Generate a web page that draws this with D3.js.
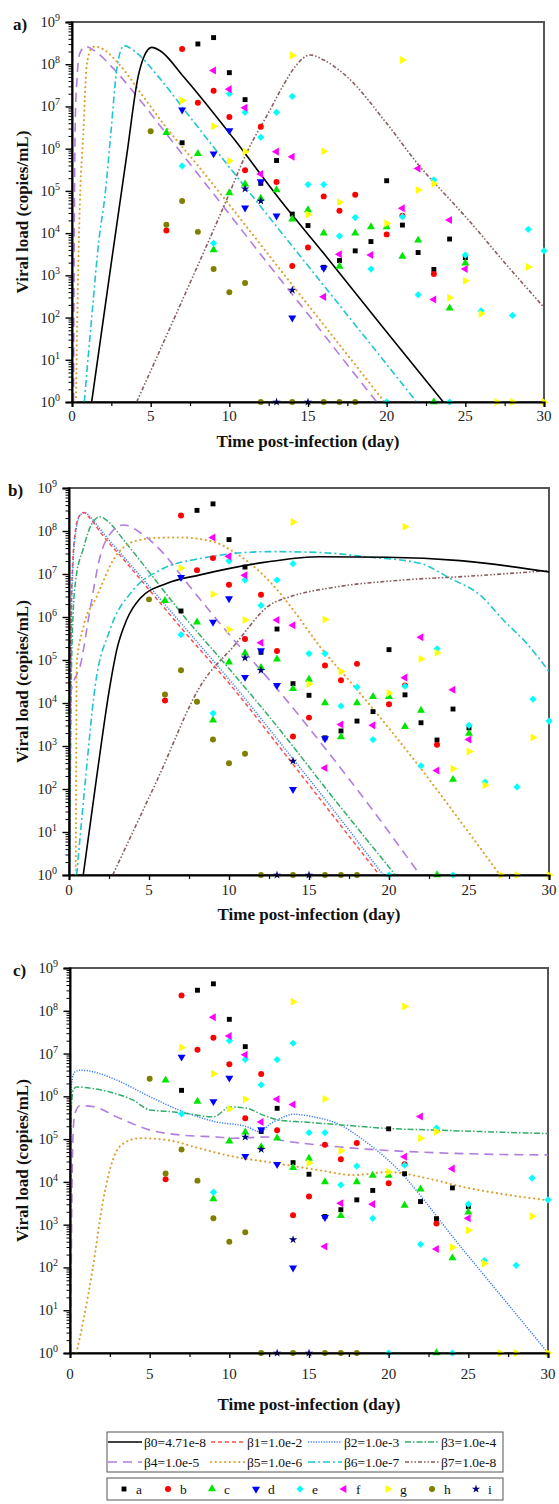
<!DOCTYPE html>
<html><head><meta charset="utf-8">
<script src="https://cdn.jsdelivr.net/npm/d3@7"></script>
<style>body{margin:0;background:#fff}</style>
</head><body>
<svg id="chart" width="559" height="1504"></svg>
<script>
// ---------------- DATA ----------------
// Observed patient data (day, copies/mL); value 1 = undetectable (drawn on axis)
const aDays = [7,8,9,10,11,12,13,14,15,16,17,18,19,20,21,22,23,24,25];
const aVals = [1.38e6,3.02e8,4.27e8,6.31e7,1.45e7,1.51e5,5.25e5,2.82e4,1.51e4,1.55e3,2.24e3,3.8e3,6.31e3,1.74e5,1.55e4,3.47e3,1.38e3,7.24e3,2.63e3];
const bDays = [6,7,8,9,10,11,12,13,14,15,16,17,18,20,21,23];
const bVals = [1.15e4,2.29e8,1.23e7,2.34e7,5.62e6,3.09e5,3.31e6,1.62e5,1.66e3,4.57e3,7.41e4,3.39e4,8.13e4,9.33e3,2.57e4,1.07e3];
const cDays = [6,8,9,10,11,12,13,14,15,16,17,18,19,20,21,22,23,24,25];
const cVals = [2.4e6,7.59e5,3.98e3,8.91e4,1.45e5,6.61e4,1.05e5,2.14e4,3.55e4,1e4,1.62e3,1e4,1.41e4,1.41e4,2.82e3,6.76e3,1,166,1.95e3];
const dDays = [7,9,10,11,12,13,14,16];
const dVals = [8.32e6,7.59e5,2.69e6,3.98e4,1.66e5,2.57e4,98,1.48e3];
const eDays = [7,9,10,11,12,13,14,15,16,17,18,19,20,21,22,23,24,25,26,28,29,30];
const eVals = [3.89e5,5.75e3,2e7,7.24e6,1.86e6,7.24e6,1.74e7,1.41e5,1.41e5,8.51e3,2.34e4,1.41e3,1,2.45e4,347,1.82e5,1,3.02e3,145,112,1.23e4,3.8e3];
const fDays = [9,10,11,12,13,14,16,17,19,21,22,23,24,25];
const fVals = [7.08e7,2.57e7,9.33e6,2.51e5,8.51e5,6.46e5,309,3.16e3,3.02e3,3.89e4,3.39e5,269,2.04e4,1.41e3];
const gDays = [7,9,10,11,14,15,16,17,20,21,22,23,24,25,26,27,28,29,30];
const gVals = [1.38e7,3.39e6,5.13e5,8.51e5,1.62e8,2.75e4,8.71e5,5.37e4,1.7e4,1.26e8,1.05e5,1.48e5,295,741,123,1,1,1.58e3,1];
const hDays = [5,6,7,8,9,10,11,12,14,16,17,18];
const hVals = [2.57e6,1.58e4,5.75e4,1.07e4,1.41e3,398,661,1,1,1,1,1];
const iDays = [11,12,13,14,15];
const iVals = [1.12e5,5.75e4,1,447,1];
const patientNames = ["a","b","c","d","e","f","g","h","i"];

// Model curves: [day, log10(copies/mL)]
const betaLabels = ["β0=4.71e-8","β1=1.0e-2","β2=1.0e-3","β3=1.0e-4","β4=1.0e-5","β5=1.0e-6","β6=1.0e-7","β7=1.0e-8"];
const panelA_b0 = [[1.25,0],[2.5,3.3],[3.5,5.9],[4.2,7.7],[4.6,8.2],[5.07,8.4],[5.6,8.32],[7.08,7.71],[10.25,6.25],[13.22,4.79],[16,3.52],[20,1.66],[23.6,0]];
const panelA_b4 = [[0.1,0],[0.13,3],[0.17,5.5],[0.2,6.5],[0.3,7.55],[0.5,8.26],[0.83,8.42],[1.5,8.3],[2.5,7.95],[4,7.3],[6,6.35],[8,5.4],[10,4.45],[12.59,3.21],[15,2.08],[17,1.12],[19.37,0]];
const panelA_b5 = [[0.25,0],[0.35,2.3],[0.5,4.7],[0.72,6.37],[0.93,7.95],[1.2,8.35],[1.46,8.42],[2,8.35],[3,8.0],[4.5,7.25],[6,6.5],[8,5.6],[10,4.67],[12.59,3.44],[15,2.3],[17.5,1.12],[19.86,0]];
const panelA_b6 = [[0.78,0],[1.3,2.2],[1.7,3.8],[2.1,4.9],[2.5,6.5],[2.85,7.9],[3.3,8.44],[4,8.3],[5.5,7.7],[7.29,6.85],[10,5.56],[12.59,4.35],[16,2.76],[19,1.36],[21.9,0]];
const panelA_b7 = [[4.11,0],[7,2.4],[9.83,4.79],[11.1,5.9],[12.59,6.92],[13.43,7.5],[14.2,7.95],[15.13,8.22],[16,8.1],[17.46,7.71],[20,6.6],[22.1,5.58],[24.03,4.79],[25.2,4.31],[27.5,3.3],[30,2.24]];

const panelB_b0 = [[0.89,0],[1.7,2.2],[2.56,4.4],[2.98,5.23],[3.6,5.93],[4.44,6.43],[6.1,6.78],[8.19,6.98],[12.56,7.29],[15.69,7.4],[19.86,7.39],[24.44,7.31],[30,7.05]];
const panelB_b1 = [[0.03,0],[0.07,3],[0.12,5.5],[0.2,7],[0.4,8.0],[0.65,8.35],[0.9,8.43],[1.3,8.3],[2,7.95],[3.5,7.3],[4.86,6.7],[7,5.75],[10.27,4.34],[13.19,2.96],[16,1.62],[19.4,0]];
const panelB_b2 = [[0.05,0],[0.1,3.5],[0.15,5.8],[0.25,7.2],[0.45,8.05],[0.7,8.37],[1.0,8.43],[1.4,8.3],[2.1,7.97],[3.6,7.32],[5,6.72],[7.2,5.77],[10.5,4.33],[13.4,2.98],[16.2,1.67],[19.64,0]];
const panelB_b3 = [[0.05,0],[0.1,3],[0.2,5.5],[0.4,6.8],[0.9,7.6],[1.4,8.15],[1.94,8.33],[2.5,8.2],[3.5,7.75],[5,7.05],[7,6.1],[10,4.8],[13,3.46],[16.5,1.8],[20.4,0]];
const panelB_b4 = [[0.04,0],[0.06,3.5],[0.1,4.2],[0.3,4.5],[0.69,4.85],[1.31,6.16],[1.94,7.4],[2.6,7.95],[3.4,8.14],[4.5,7.95],[5.9,7.48],[7.35,6.8],[10,5.6],[12.98,4.34],[16,2.95],[19,1.5],[21.94,0]];
const panelB_b5 = [[0.42,0],[0.45,2.5],[0.48,4.92],[0.9,5.77],[1.73,6.47],[2.77,7.33],[4.02,7.75],[5.5,7.84],[6.94,7.85],[9.02,7.75],[10.27,7.52],[12.56,6.82],[14.02,6.16],[15.69,5.31],[17.56,4.5],[18.2,4.22],[21.73,2.6],[24.86,1.05],[26.94,0]];
const panelB_b6 = [[0.48,0],[1.0,2.1],[1.63,4.38],[2.56,5.7],[4.02,6.63],[5.69,7.09],[8.19,7.36],[12.56,7.52],[15.69,7.5],[18.81,7.39],[21.94,7.25],[23.81,6.9],[25.69,6.51],[27.14,5.93],[28.6,5.39],[30,4.73]];
const panelB_b7 = [[2.73,0],[5.5,2.2],[8.3,4.45],[10.27,5.31],[12.56,6.28],[13.81,6.47],[16.73,6.7],[20.9,6.86],[25.06,6.95],[30,7.08]];

const panelC_b2 = [[0.03,0],[0.05,5.0],[0.1,6.3],[0.31,6.57],[0.63,6.61],[1.26,6.59],[1.88,6.53],[2.93,6.38],[5.02,5.99],[7.11,5.64],[9.21,5.4],[11.09,5.29],[11.93,5.17],[12.55,5.35],[13.18,5.48],[14.02,5.58],[15.27,5.52],[16.74,5.37],[18.41,4.98],[20,4.5],[24.7,2.4],[30,0]];
const panelC_b3 = [[0.03,0],[0.06,5.5],[0.2,6.15],[0.42,6.22],[1.46,6.18],[2.51,6.1],[3.97,5.91],[5.02,5.68],[6.07,5.65],[7.32,5.6],[9.0,5.52],[10.04,5.75],[11.09,5.72],[12.13,5.56],[13.18,5.44],[14.65,5.4],[16.74,5.34],[19.88,5.25],[23.02,5.21],[27.2,5.16],[30,5.13]];
const panelC_b4 = [[0.04,0],[0.1,3],[0.2,5.2],[0.31,5.6],[0.63,5.78],[1.46,5.76],[2.93,5.52],[5.02,5.21],[7.11,5.09],[9.21,5.05],[10.25,5.02],[12.35,5.05],[13.18,4.98],[15.69,4.86],[18.83,4.76],[23.02,4.68],[27.2,4.64],[30,4.63]];
const panelC_b5 = [[0.4,0],[0.85,0.78],[1.41,1.94],[2.08,3.57],[2.72,4.55],[3.35,4.9],[4.39,5.02],[6.07,4.98],[8.16,4.78],[10.25,4.59],[12.35,4.47],[15.7,4.27],[17.75,4.16],[20,4.23],[22.45,4.08],[24.7,3.88],[26.9,3.73],[30,3.57]];

const xTickValues = [0,5,10,15,20,25,30];
const yTickExponents = [0,1,2,3,4,5,6,7,8,9];
const panelLabels = ["a)","b)","c)"];
const xTitle = "Time post-infection (day)";
const yTitle = "Viral load (copies/mL)";

// ---------------- STYLE ----------------
const FONT = "'Liberation Serif','Times New Roman',serif";
const betaStyle = [
  {color:"#000000", dash:null, w:1.6, cap:"butt"},
  {color:"#ff4d4d", dash:"4,3", w:1.5, cap:"butt"},
  {color:"#3d7dff", dash:"1.2,1.4", w:1.5, cap:"butt"},
  {color:"#2fae6a", dash:"6,2,1.5,2", w:1.5, cap:"butt"},
  {color:"#b07ee0", dash:"9,6", w:1.6, cap:"butt"},
  {color:"#dd9f2c", dash:"0.1,4.6", w:2.1, cap:"round"},
  {color:"#1fc6d0", dash:"7,3,2,3", w:1.6, cap:"butt"},
  {color:"#8a5c5c", dash:"4,2,1.5,2,1.5,2", w:1.6, cap:"butt"}
];
const patients = [
  {days:aDays, vals:aVals, type:d3.symbolSquare, rot:0, color:"#000000", size:24},
  {days:bDays, vals:bVals, type:d3.symbolCircle, rot:0, color:"#ff0000", size:28},
  {days:cDays, vals:cVals, type:d3.symbolTriangle, rot:0, color:"#00e600", size:28},
  {days:dDays, vals:dVals, type:d3.symbolTriangle, rot:180, color:"#0000ff", size:28},
  {days:eDays, vals:eVals, type:d3.symbolSquare, rot:45, color:"#00ffff", size:26},
  {days:fDays, vals:fVals, type:d3.symbolTriangle, rot:-90, color:"#ff00ff", size:28},
  {days:gDays, vals:gVals, type:d3.symbolTriangle, rot:90, color:"#ffff00", size:28},
  {days:hDays, vals:hVals, type:d3.symbolCircle, rot:0, color:"#808000", size:28},
  {days:iDays, vals:iVals, type:d3.symbolStar, rot:0, color:"#000080", size:22}
];

const panels = [
  {label:panelLabels[0], left:72, right:544, top:22, bottom:402, tickDy:19, titleDy:45, curves:[[4,panelA_b4],[5,panelA_b5],[6,panelA_b6],[7,panelA_b7],[0,panelA_b0]]},
  {label:panelLabels[1], left:69, right:549, top:488, bottom:875, tickDy:20, titleDy:45, curves:[[1,panelB_b1],[2,panelB_b2],[3,panelB_b3],[4,panelB_b4],[5,panelB_b5],[6,panelB_b6],[7,panelB_b7],[0,panelB_b0]]},
  {label:panelLabels[2], left:70, right:548, top:968, bottom:1353, tickDy:26, titleDy:57, curves:[[2,panelC_b2],[3,panelC_b3],[4,panelC_b4],[5,panelC_b5]]}
];

const svg = d3.select("#chart");

panels.forEach((p, pi) => {
  const x = d3.scaleLinear().domain([0,30]).range([p.left, p.right]);
  const y = d3.scaleLog().domain([1,1e9]).range([p.bottom, p.top]);
  const g = svg.append("g");
  const clipId = "clip" + pi;
  svg.append("clipPath").attr("id", clipId).append("rect")
    .attr("x", p.left).attr("y", p.top).attr("width", p.right - p.left).attr("height", p.bottom - p.top);

  // frame (top/right gray)
  g.append("rect").attr("x", p.left).attr("y", p.top)
    .attr("width", p.right - p.left).attr("height", p.bottom - p.top)
    .attr("fill", "none").attr("stroke", "#555").attr("stroke-width", 2);

  // curves
  const line = d3.line().x(d => x(d[0])).y(d => y(Math.pow(10, d[1]))).curve(d3.curveMonotoneX);
  const cg = g.append("g").attr("clip-path", `url(#${clipId})`);
  p.curves.forEach(([bi, data]) => {
    const s = betaStyle[bi];
    cg.append("path").datum(data).attr("d", line)
      .attr("fill", "none").attr("stroke", s.color).attr("stroke-width", s.w)
      .attr("stroke-dasharray", s.dash).attr("stroke-linecap", s.cap);
  });

  // points
  patients.forEach(s => {
    const sym = d3.symbol().type(s.type).size(s.size);
    g.append("g").selectAll("path").data(s.days.map((d, k) => [d, s.vals[k]])).join("path")
      .attr("d", sym)
      .attr("transform", d => `translate(${x(d[0])},${y(d[1])}) rotate(${s.rot})`)
      .attr("fill", s.color);
  });

  // axes
  const minorY = [];
  for (let e = 0; e < 9; e++) for (let m = 2; m <= 9; m++) minorY.push(m * Math.pow(10, e));
  const majorY = yTickExponents.map(e => Math.pow(10, e));
  g.append("g").attr("transform", `translate(${p.left},0)`)
    .call(d3.axisLeft(y).tickValues(minorY).tickSize(3.5).tickFormat(""))
    .call(a => a.select(".domain").remove())
    .selectAll("line").attr("stroke", "#000").attr("stroke-width", 1);
  g.append("g").attr("transform", `translate(${p.left},0)`)
    .call(d3.axisLeft(y).tickValues(majorY).tickSize(6.5).tickFormat(""))
    .call(a => a.select(".domain").attr("stroke", "#000").attr("stroke-width", 2))
    .selectAll("line").attr("stroke", "#000").attr("stroke-width", 1.4);

  const minorX = [2.5,7.5,12.5,17.5,22.5,27.5];
  g.append("g").attr("transform", `translate(0,${p.bottom})`)
    .call(d3.axisBottom(x).tickValues(minorX).tickSize(4).tickFormat(""))
    .call(a => a.select(".domain").remove())
    .selectAll("line").attr("stroke", "#000").attr("stroke-width", 1.2);
  g.append("g").attr("transform", `translate(0,${p.bottom})`)
    .call(d3.axisBottom(x).tickValues(xTickValues).tickSize(5).tickFormat(""))
    .call(a => a.select(".domain").attr("stroke", "#000").attr("stroke-width", 2))
    .selectAll("line").attr("stroke", "#000").attr("stroke-width", 1.4);

  // tick labels
  yTickExponents.forEach(e => {
    const t = g.append("text").attr("x", p.left - 12).attr("y", y(Math.pow(10, e)) + 5)
      .attr("text-anchor", "end").attr("font-family", FONT).attr("font-size", 14.5).attr("fill", "#222");
    t.append("tspan").text("10");
    t.append("tspan").attr("dy", -6).attr("font-size", 10).text(e);
  });
  xTickValues.forEach(v => {
    g.append("text").attr("x", x(v)).attr("y", p.bottom + p.tickDy)
      .attr("text-anchor", "middle").attr("font-family", FONT).attr("font-size", 15).attr("fill", "#222").text(v);
  });

  // titles
  g.append("text").attr("x", (p.left + p.right) / 2).attr("y", p.bottom + p.titleDy)
    .attr("text-anchor", "middle").attr("font-family", FONT).attr("font-weight", "bold")
    .attr("font-size", 17).attr("fill", "#111").text(xTitle);
  g.append("text").attr("transform", `translate(28,${(p.top + p.bottom) / 2}) rotate(-90)`)
    .attr("text-anchor", "middle").attr("font-family", FONT).attr("font-weight", "bold")
    .attr("font-size", 17).attr("fill", "#111").text(yTitle);
  g.append("text").attr("x", pi === 1 ? 8 : 13).attr("y", p.top + 8)
    .attr("font-family", FONT).attr("font-weight", "bold").attr("font-size", 17).attr("fill", "#111").text(p.label);
});

// ---------------- LEGENDS ----------------
const leg1 = svg.append("g");
leg1.append("rect").attr("x", 107).attr("y", 1432).attr("width", 396).attr("height", 40)
  .attr("fill", "#fff").attr("stroke", "#555").attr("stroke-width", 1);
const colX = [108, 211, 308, 405];
betaLabels.forEach((lab, k) => {
  const s = betaStyle[k];
  const cx = colX[k % 4], cy = 1442 + Math.floor(k / 4) * 20;
  leg1.append("line").attr("x1", cx).attr("x2", cx + 34).attr("y1", cy).attr("y2", cy)
    .attr("stroke", s.color).attr("stroke-width", s.w).attr("stroke-dasharray", s.dash)
    .attr("stroke-linecap", s.cap);
  leg1.append("text").attr("x", cx + 36).attr("y", cy + 4.5).attr("font-family", FONT)
    .attr("font-size", 13.5).attr("fill", "#111").text(lab);
});

const leg2 = svg.append("g");
leg2.append("rect").attr("x", 107).attr("y", 1478).attr("width", 396).attr("height", 22)
  .attr("fill", "#fff").attr("stroke", "#555").attr("stroke-width", 1);
patients.forEach((s, k) => {
  const cx = 124 + k * 44, cy = 1489;
  leg2.append("path").attr("d", d3.symbol().type(s.type).size(s.size)())
    .attr("transform", `translate(${cx},${cy}) rotate(${s.rot})`).attr("fill", s.color);
  leg2.append("text").attr("x", cx + 12).attr("y", cy + 4.5).attr("font-family", FONT)
    .attr("font-size", 13.5).attr("fill", "#111").text(patientNames[k]);
});
</script>
</body></html>
